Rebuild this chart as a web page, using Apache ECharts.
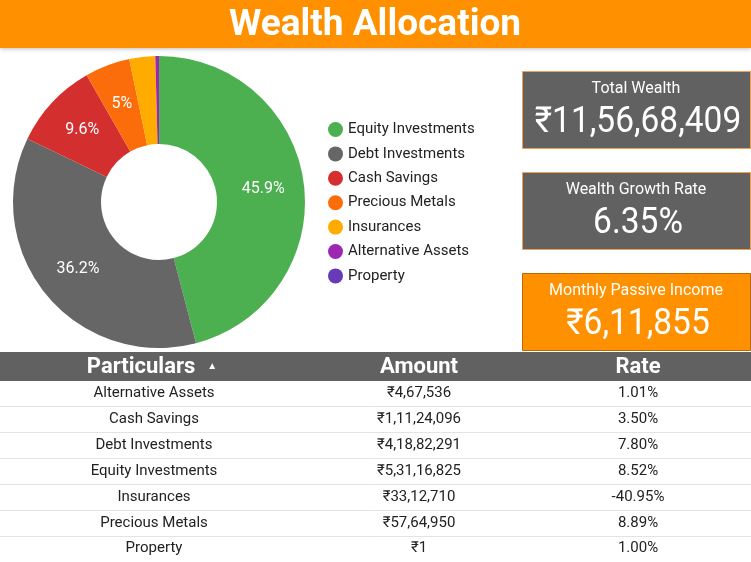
<!DOCTYPE html>
<html>
<head>
<meta charset="utf-8">
<script src="https://cdn.jsdelivr.net/npm/echarts@6/dist/echarts.min.js"></script>
<style>html,body{margin:0;padding:0;background:#fff;}#c{width:751px;height:562px;}</style>
</head>
<body>
<div id="c"></div>
<script>
// ---- data ----
const title = 'Wealth Allocation';
const categories = ['Alternative Assets', 'Cash Savings', 'Debt Investments', 'Equity Investments', 'Insurances', 'Precious Metals', 'Property'];
const amounts = [467536, 11124096, 41882291, 53116825, 3312710, 5764950, 1];
const rates = [1.01, 3.50, 7.80, 8.52, -40.95, 8.89, 1.00];
const tableHeaders = ['Particulars', 'Amount', 'Rate'];
const kpiLabels = ['Total Wealth', 'Wealth Growth Rate', 'Monthly Passive Income'];
const growthRate = 6.35;
const monthlyPassiveIncome = 611855;
const colorsByName = {
  'Equity Investments': '#4caf50',
  'Debt Investments': '#666666',
  'Cash Savings': '#d32f2f',
  'Precious Metals': '#fb6d0b',
  'Insurances': '#ffab00',
  'Alternative Assets': '#9c27b0',
  'Property': '#673ab7'
};

// ---- helpers ----
function inr(n) {
  const s = String(Math.round(n));
  if (s.length <= 3) return '₹' + s;
  const last3 = s.slice(-3);
  const rest = s.slice(0, -3).replace(/\B(?=(\d{2})+(?!\d))/g, ',');
  return '₹' + rest + ',' + last3;
}
const totalWealth = amounts.reduce((a, b) => a + b, 0);
const kpiValues = [inr(totalWealth), growthRate.toFixed(2) + '%', inr(monthlyPassiveIncome)];

const pieData = categories.map((c, i) => ({ name: c, value: amounts[i], itemStyle: { color: colorsByName[c] } }))
  .sort((a, b) => b.value - a.value);

const FONT = 'Roboto, "Noto Sans", sans-serif';
const graphics = [];

// banner
graphics.push({ type: 'rect', shape: { x: 0, y: 0, width: 751, height: 48 },
  style: { fill: '#ff9100', shadowBlur: 4, shadowColor: 'rgba(0,0,0,0.25)', shadowOffsetY: 1 }, z: 10 });
graphics.push({ type: 'text', x: 375, y: 26, z: 11,
  style: { text: title, fill: '#fff', font: 'bold 37px ' + FONT, align: 'center', verticalAlign: 'middle' } });

// KPI boxes
const boxY = [71, 172, 273];
const boxFill = ['#616161', '#616161', '#ff9100'];
const boxStroke = ['#f0a050', '#f0a050', '#b86a00'];
boxY.forEach((y, i) => {
  graphics.push({ type: 'rect', shape: { x: 522.5, y: y + 0.5, width: 228, height: 77 },
    style: { fill: boxFill[i], stroke: boxStroke[i], lineWidth: 1 }, z: 10 });
  graphics.push({ type: 'text', x: 636, y: y + 18, z: 11,
    style: { text: kpiLabels[i], fill: '#fff', font: '16px ' + FONT, align: 'center', verticalAlign: 'middle' } });
  graphics.push({ type: 'text', x: 638, y: y + 52, z: 11, scaleX: 0.93, originX: 0, originY: 0,
    style: { text: kpiValues[i], fill: '#fff', font: '36px ' + FONT, align: 'center', verticalAlign: 'middle' } });
});

// table
const colX = [154, 419, 638];
const headerY = 352, headerH = 29;
graphics.push({ type: 'rect', shape: { x: 0, y: headerY, width: 751, height: headerH },
  style: { fill: '#616161' }, z: 10 });
tableHeaders.forEach((h, j) => {
  const txt = j === 0 ? '{b|' + h + '}{a|▲}' : '{b|' + h + '}';
  graphics.push({ type: 'text', x: j === 0 ? 152 : colX[j], y: headerY + headerH / 2 + 1, z: 11,
    style: { text: txt, align: 'center', verticalAlign: 'middle',
      rich: { b: { fill: '#fff', font: 'bold 22px ' + FONT }, a: { fill: '#fff', font: '10px ' + FONT, padding: [0, 0, 2, 12] } } } });
});
const rowH = 25.85, firstRowY = 393.5;
categories.forEach((c, i) => {
  const y = firstRowY + rowH * i;
  const cells = [c, inr(amounts[i]), rates[i].toFixed(2) + '%'];
  cells.forEach((t, j) => {
    graphics.push({ type: 'text', x: colX[j], y: y, z: 11,
      style: { text: t, fill: '#222', font: '15px ' + FONT, align: 'center', verticalAlign: 'middle' } });
  });
  if (i < categories.length - 1) {
    const ly = Math.round(y + rowH / 2) + 0.5;
    graphics.push({ type: 'line', shape: { x1: 0, y1: ly, x2: 751, y2: ly },
      style: { stroke: '#e3e3e3', lineWidth: 1 }, z: 10 });
  }
});

const chart = echarts.init(document.getElementById('c'), null, { renderer: 'canvas' });
chart.setOption({
  backgroundColor: '#fff',
  animation: false,
  textStyle: { fontFamily: FONT },
  legend: {
    orient: 'vertical', left: 323, top: 117,
    icon: 'circle', itemWidth: 15, itemHeight: 15, itemGap: 9.4,
    textStyle: { color: '#222', fontSize: 15, fontFamily: FONT },
    data: pieData.map(d => d.name)
  },
  series: [{
    type: 'pie',
    center: [159, 202],
    radius: [58, 146],
    startAngle: 90,
    clockwise: true,
    avoidLabelOverlap: false,
    label: {
      show: true, position: 'inside', color: '#fff', fontSize: 16, fontFamily: FONT,
      formatter: p => p.percent < 4 ? '' : (+p.percent.toFixed(1)) + '%'
    },
    labelLine: { show: false },
    itemStyle: { borderWidth: 0 },
    emphasis: { disabled: true },
    data: pieData
  }],
  graphic: graphics
});
</script>
</body>
</html>
